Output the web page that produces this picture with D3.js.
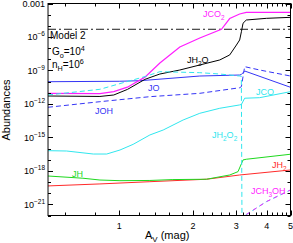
<!DOCTYPE html>
<html><head><meta charset="utf-8">
<script src="https://cdn.jsdelivr.net/npm/d3@7"></script>
<style>body{margin:0;background:#fff}svg{display:block}text{font-family:"Liberation Sans",Arial,sans-serif}</style>
</head><body><svg id="c" width="293" height="243"></svg>
<script>
// ---- data: Av (mag) and log10(abundance) ----
const avJCO2  = [0.512, 0.834, 0.95, 1.08, 1.273, 1.465, 1.767, 2.132, 2.613, 2.824, 3.10, 3.30, 5.0];
const logJCO2 = [-11.05, -11.08, -10.9, -10.5, -9.6, -8.33, -6.90, -6.09, -5.31, -4.35, -3.94, -3.79, -3.79];

const avJH2O  = [0.512, 0.834, 0.95, 1.08, 1.273, 1.465, 1.767, 2.132, 2.572, 2.824, 3.008, 3.101, 3.152, 3.201, 3.30, 3.985, 5.0];
const logJH2O = [-11.29, -11.33, -11.2, -10.7, -9.8, -9.32, -8.96, -8.51, -8.06, -7.61, -6.72, -6.27, -5.53, -4.77, -4.48, -4.33, -4.24];

const avJO  = [0.512, 1.0, 1.214, 2.132, 3.101, 3.152, 3.25, 5.0];
const logJO = [-10.01, -9.97, -9.92, -9.50, -9.41, -9.36, -9.05, -10.51];

const avJOH  = [0.512, 0.834, 1.334, 2.132, 3.101, 3.152, 3.25, 3.742, 5.0];
const logJOH = [-12.30, -11.80, -11.35, -11.05, -10.55, -10.45, -8.66, -8.96, -9.50];

const avJH2O2  = [0.512, 0.834, 1.1, 1.273, 1.465, 2.132, 2.572, 3.101, 3.15, 3.17, 3.2, 3.985, 5.0];
const logJH2O2 = [-11.20, -10.69, -9.94, -9.55, -9.11, -9.20, -9.32, -9.50, -9.52, -23, -22.1, -20.76, -19.71];

const avJCO  = [0.512, 0.61, 0.784, 0.889, 1.007, 1.14, 1.334, 1.511, 1.823, 2.132, 2.572, 3.101, 3.152, 3.25, 3.742, 5.0];
const logJCO = [-16.19, -16.22, -16.49, -16.49, -16.13, -15.62, -14.78, -14.34, -13.44, -12.84, -12.39, -12.09, -12.05, -11.49, -11.44, -10.90];

const avJH  = [0.512, 0.711, 0.834, 1.007, 1.334, 1.655, 2.27, 2.824, 3.053, 3.201, 3.30, 5.0];
const logJH = [-18.46, -18.66, -18.82, -18.88, -18.86, -18.78, -18.75, -18.37, -18.07, -17.02, -16.96, -16.51];

const avJH2  = [0.512, 0.834, 1.334, 2.27, 3.101, 5.0];
const logJH2 = [-19.35, -19.17, -18.97, -18.75, -18.37, -17.92];

const avJCH3OH  = [3.2, 3.985, 5.0];
const logJCH3OH = [-22.1, -20.76, -19.71];

const avRef  = [0.512, 5.0];
const logRef = [-5.31, -5.31];

const xMajorTicks = [1, 2, 3, 4, 5];
const xMinorTicks = [0.6, 0.8, 1.2, 1.4, 1.6, 1.8, 2.2, 2.4, 2.6, 2.8, 3.2, 3.4, 3.6, 3.8, 4.2, 4.4, 4.6, 4.8];
const yMajorExp = [-3, -6, -9, -12, -15, -18, -21];
const yMinorExp = [-4, -5, -7, -8, -10, -11, -13, -14, -16, -17, -19, -20, -22];

// ---- layout ----
const L = 48, R = 290.5, T = 3.5, B = 215.5;
const svg = d3.select("#c");
const x = d3.scaleLog().domain([0.512, 5]).range([L, R]);
const y = d3.scaleLog().domain([1e-22, 1e-3]).range([B, T]);

svg.append("defs").append("clipPath").attr("id", "pc")
  .append("rect").attr("x", L).attr("y", T).attr("width", R - L).attr("height", B - T);

const g = svg.append("g").attr("clip-path", "url(#pc)");
const line = d3.line().x(d => x(d[0])).y(d => y(Math.pow(10, d[1])));
function series(av, lg, color, dash, w, offset) {
  const p = g.append("path").datum(av.map((a, i) => [a, lg[i]]))
    .attr("d", line).attr("fill", "none").attr("stroke", color)
    .attr("stroke-width", w || 1);
  if (dash) p.attr("stroke-dasharray", dash);
  if (offset) p.attr("stroke-dashoffset", offset);
}
const MAG = "#ff1eff", BLUE = "#3535f5", CYAN = "#30e6ee", GREEN = "#1ed81e", RED = "#ff2a2a";
series(avRef, logRef, "#000", "8,3,2,3", 0.9);
series(avJH2, logJH2, RED);
series(avJH, logJH, GREEN);
series(avJCO, logJCO, CYAN);
series(avJO, logJO, BLUE);
series(avJOH, logJOH, BLUE, "5,3");
series(avJH2O, logJH2O, "#000");
series(avJCO2, logJCO2, MAG, null, 1.2);
series(avJH2O2, logJH2O2, CYAN, "5,3");
series(avJCH3OH, logJCH3OH, MAG, "4,4", 1, 4);

// ---- frame & ticks ----
const ax = svg.append("g").attr("stroke", "#000").attr("stroke-width", 1);
ax.append("rect").attr("x", L).attr("y", T).attr("width", R - L).attr("height", B - T).attr("fill", "none");
ax.append("line").attr("x1", L - 0.5).attr("x2", L - 0.5).attr("y1", T).attr("y2", B).attr("stroke", "#888");
function xt(v, len) {
  const px = Math.round(x(v)) + 0.5;
  ax.append("line").attr("x1", px).attr("x2", px).attr("y1", B).attr("y2", B - len);
  ax.append("line").attr("x1", px).attr("x2", px).attr("y1", T).attr("y2", T + len);
}
function yt(e, len) {
  const py = Math.round(y(Math.pow(10, e))) + 0.5;
  ax.append("line").attr("x1", L).attr("x2", L + len).attr("y1", py).attr("y2", py);
  ax.append("line").attr("x1", R).attr("x2", R - len).attr("y1", py).attr("y2", py);
}
xMajorTicks.forEach(v => xt(v, 5));
xMinorTicks.forEach(v => xt(v, 3));
yMajorExp.forEach(e => yt(e, 5));
yMinorExp.forEach(e => yt(e, 3));

// tick labels
xMajorTicks.forEach(v => svg.append("text").attr("x", x(v)).attr("y", 229)
  .attr("text-anchor", "middle").attr("font-size", 9).text(v));
yMajorExp.forEach(e => {
  const t = svg.append("text").attr("x", 45).attr("y", y(Math.pow(10, e)) + 3.5)
    .attr("text-anchor", "end").attr("font-size", 9);
  if (e === -3) t.text("0.001");
  else {
    t.append("tspan").text("10");
    t.append("tspan").attr("font-size", 6.5).attr("dy", -4).text("\u2212" + (-e));
  }
});

// rich label helper
function label(x0, yb, parts, color, size) {
  const t = svg.append("text").attr("x", x0).attr("y", yb).attr("fill", color).attr("font-size", size);
  let cur = 0;
  parts.forEach(([s, k]) => {
    const sp = t.append("tspan").text(s);
    let target = k === "sub" ? 2.5 : k === "sup" ? -4 : 0;
    if (k === "sub" || k === "sup") sp.attr("font-size", size * 0.72);
    if (target !== cur) sp.attr("dy", target - cur);
    cur = target;
  });
  return t;
}
label(203, 17, [["JCO", "n"], ["2", "sub"]], MAG, 9);
label(187, 63, [["JH", "n"], ["2", "sub"], ["O", "n"]], "#000", 9);
label(148, 91, [["JO", "n"]], BLUE, 9);
label(256, 95, [["JCO", "n"]], CYAN, 9);
label(95, 114, [["JOH", "n"]], BLUE, 9);
label(212, 138, [["JH", "n"], ["2", "sub"], ["O", "n"], ["2", "sub"]], CYAN, 9);
label(72, 177, [["JH", "n"]], GREEN, 9);
label(272, 168, [["JH", "n"], ["2", "sub"]], RED, 9);
label(251, 194, [["JCH", "n"], ["3", "sub"], ["OH", "n"]], MAG, 9);

label(50, 39, [["Model  2", "n"]], "#000", 10);
label(52, 55, [["G", "n"], ["o", "sub"], ["=10", "n"], ["4", "sup"]], "#000", 10);
label(52, 68, [["n", "n"], ["H", "sub"], ["=10", "n"], ["6", "sup"]], "#000", 10);

// axis titles
label(145, 239, [["A", "n"], ["V", "sub"], [" (mag)", "n"]], "#000", 11);
svg.append("text").attr("transform", "translate(10,110) rotate(-90)")
  .attr("text-anchor", "middle").attr("font-size", 11).text("Abundances");
</script></body></html>
